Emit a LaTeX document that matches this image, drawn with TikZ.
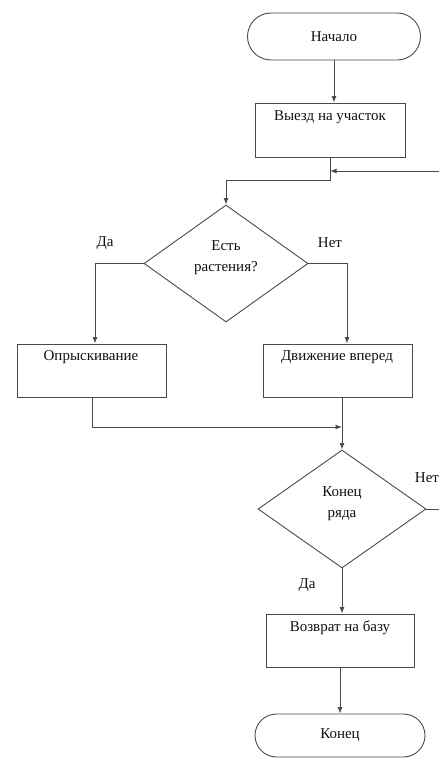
\documentclass[tikz,border=0pt]{standalone}
\usepackage{fontspec}
\setmainfont{Liberation Serif}
\usetikzlibrary{shapes.geometric,shapes.misc,arrows.meta}
\definecolor{lc}{HTML}{4A4A4A}
\definecolor{tc}{HTML}{111111}
\tikzset{
  ln/.style={draw=lc, line width=0.9pt},
  arr/.style={ln, -{Latex[length=6.5pt,width=5pt]}},
  proc/.style={draw=lc, line width=0.9pt, rectangle, inner sep=0pt},
  term/.style={draw=lc, line width=0.9pt, rounded rectangle, inner sep=0pt, text=tc, font=\fontsize{15}{17}\selectfont},
  dec/.style={draw=lc, line width=0.9pt, diamond, inner sep=0pt},
  txt/.style={inner sep=0pt, text=tc, align=center, font=\fontsize{15}{17}\selectfont},
  dtxt/.style={txt, font=\fontsize{15}{21}\selectfont}
}
\begin{document}
\begin{tikzpicture}[x=1pt,y=-1pt]
\useasboundingbox (0,0) rectangle (439,758);
% nodes
\node[term, minimum width=173pt, minimum height=47pt] (start) at (334,36.5) {Начало};
\node[proc, minimum width=150pt, minimum height=54pt] (b1) at (330,130) {};
\node[txt] (b1t) at (330,117) {Выезд на участок};
\node[dec, minimum width=164pt, minimum height=117pt] (d1) at (226,263.5) {};
\node[dtxt] (d1t) at (226,258) {Есть\\растения?};
\node[proc, minimum width=149pt, minimum height=53pt] (b2) at (92,370.5) {};
\node[txt] (b2t) at (91,357) {Опрыскивание};
\node[proc, minimum width=149pt, minimum height=53pt] (b3) at (337.5,370.5) {};
\node[txt] (b3t) at (337,357) {Движение вперед};
\node[dec, minimum width=168pt, minimum height=118pt] (d2) at (342,509) {};
\node[dtxt] (d2t) at (342,504) {Конец\\ряда};
\node[proc, minimum width=148pt, minimum height=53pt] (b4) at (340,640.5) {};
\node[txt] (b4t) at (340,628) {Возврат на базу};
\node[term, minimum width=170pt, minimum height=43pt] (end) at (340,735.5) {Конец};
% labels
\node[txt] (l1) at (105,243) {Да};
\node[txt] (l2) at (330,243) {Нет};
\node[txt] (l3) at (427,478) {Нет};
\node[txt] (l4) at (307,585) {Да};
% coordinates
\coordinate (j1) at (226,180);
\coordinate (rin) at (439,171);
\coordinate (m1) at (342,427);
\coordinate (rout) at (439,509);
% connectors
\draw[arr] (start.south) -- (start.south |- b1.north);
\draw[arr] (b1.south) -- (b1.south |- j1) -- (j1) -- (d1.north);
\draw[arr] (rin) -- (b1.south |- rin);
\draw[arr] (d1.west) -| ([xshift=3pt]b2.north);
\draw[arr] (d1.east) -| ([xshift=9.5pt]b3.north);
\draw[arr] (b2.south) |- (m1);
\draw[arr] ([xshift=4.5pt]b3.south) -- (d2.north);
\draw[ln] (d2.east) -- (rout);
\draw[arr] (d2.south) -- (d2.south |- b4.north);
\draw[arr] (b4.south) -- (b4.south |- end.north);
\end{tikzpicture}
\end{document}
